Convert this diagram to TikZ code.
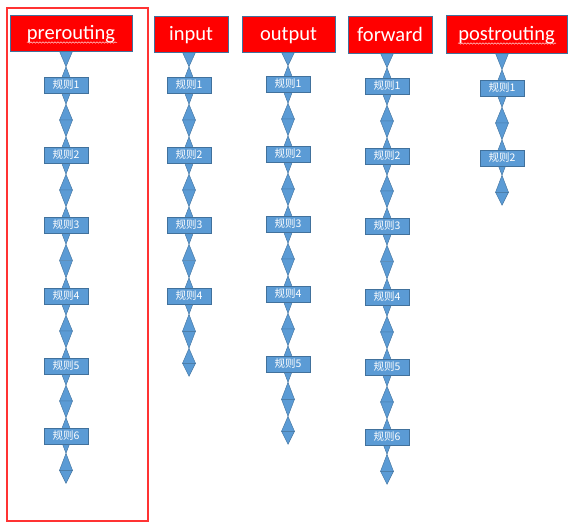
\documentclass[tikz,border=0pt]{standalone}
\usepackage{fontspec}
\setmainfont{Carlito}
\newfontfamily\cjk{Noto Sans CJK SC}
\usetikzlibrary{calc,backgrounds,decorations.pathmorphing}
\definecolor{hfill}{RGB}{255,0,0}
\definecolor{bfill}{RGB}{91,155,213}
\definecolor{bline}{RGB}{65,113,156}
\definecolor{framered}{RGB}{255,51,51}
\tikzset{
 chainbox/.style={fill=hfill,draw=bline,line width=0.8pt,text=white,font=\fontsize{20.5}{24}\selectfont,inner sep=0pt,text height=15.5pt,text depth=2.5pt},
 rulebox/.style={fill=bfill,draw=bline,line width=0.6pt,text=white,font=\cjk\fontsize{10.5}{12}\selectfont,minimum width=44pt,minimum height=16pt,inner sep=0pt},
 tri/.style={fill=bfill,draw=bline,line width=0.4pt,line join=miter},
 squig/.style={draw=red!20!white,line width=0.5pt,decorate,decoration={snake,amplitude=0.7pt,segment length=3pt}}
}
\newcommand\tri[2]{\filldraw[tri] ([xshift=-6.5pt]#1) -- ([xshift=6.5pt]#1) -- (#2) -- cycle;}
\newcommand\hlink[2]{%
 \coordinate (u0) at (#2.north |- #1.south);
 \coordinate (u1) at ($(#2.north)+(0,-10)$);
 \coordinate (u2) at ($(u1)+(0,17)$);
 \tri{u0}{u1}\tri{u2}{u1}}
\newcommand\rlink[2]{%
 \coordinate (u1) at ($(#1.south)+(0,11)$);
 \coordinate (u0) at ($(u1)+(0,-17)$);
 \coordinate (um) at ($(#1.south)!0.5!(#2.north)$);
 \coordinate (u2) at ($(#2.north)+(0,-10)$);
 \coordinate (u3) at ($(u2)+(0,17)$);
 \tri{u0}{u1}\tri{um}{u1}\tri{um}{u2}\tri{u3}{u2}}
\newcommand\tailthree[1]{%
 \coordinate (u1) at ($(#1.south)+(0,9)$);
 \coordinate (u0) at ($(u1)+(0,-17)$);
 \coordinate (u2) at ($(u1)+(0,17)$);
 \coordinate (u3) at ($(u2)+(0,13)$);
 \tri{u0}{u1}\tri{u2}{u1}\tri{u2}{u3}}
\newcommand\tailfive[1]{%
 \coordinate (u1) at ($(#1.south)+(0,10)$);
 \coordinate (u0) at ($(u1)+(0,-17)$);
 \coordinate (u2) at ($(u1)+(0,17)$);
 \coordinate (u3) at ($(u2)+(0,17)$);
 \coordinate (u4) at ($(u3)+(0,15)$);
 \coordinate (u5) at ($(u4)+(0,13)$);
 \tri{u0}{u1}\tri{u2}{u1}\tri{u2}{u3}\tri{u4}{u3}\tri{u4}{u5}}
\begin{document}
\begin{tikzpicture}[x=1pt,y=-1pt]
\useasboundingbox (0,0) rectangle (576,530);
% frame
\draw[framered,line width=2pt] (6.5,7.5) rectangle (147.5,521);
% headers
\node[chainbox,minimum width=122pt,minimum height=36pt] (pre) at (71,33) {prerouting};
\node[chainbox,minimum width=74pt,minimum height=36pt] (inp) at (191,34) {input};
\node[chainbox,minimum width=93pt,minimum height=36pt] (out) at (288.5,34) {output};
\node[chainbox,minimum width=84pt,minimum height=37pt] (fwd) at (390,34.5) {forward};
\node[chainbox,minimum width=121pt,minimum height=38pt] (post) at (506.5,34) {postrouting};
\draw[squig] (27,42.5) -- (117,42.5);
\draw[squig] (458,43.5) -- (556,43.5);
% rules
\foreach \i/\y in {1/85,2/155,3/225,4/296,5/366,6/436}
  \node[rulebox] (pre\i) at (66,\y) {规则\i};
\foreach \i/\y in {1/85,2/155,3/225,4/296}
  \node[rulebox] (inp\i) at (189,\y) {规则\i};
\foreach \i/\y in {1/84,2/154,3/224,4/294,5/364}
  \node[rulebox] (out\i) at (288,\y) {规则\i};
\foreach \i/\y in {1/86,2/156,3/226,4/297,5/367,6/437}
  \node[rulebox] (fwd\i) at (387,\y) {规则\i};
\foreach \i/\y in {1/88,2/158}
  \node[rulebox] (post\i) at (502,\y) {规则\i};
% connectors
\begin{pgfonlayer}{background}
\hlink{pre}{pre1}
\hlink{inp}{inp1}
\hlink{out}{out1}
\hlink{fwd}{fwd1}
\hlink{post}{post1}
\foreach \i in {1,...,5}{\pgfmathtruncatemacro\j{\i+1}\rlink{pre\i}{pre\j}}
\foreach \i in {1,...,3}{\pgfmathtruncatemacro\j{\i+1}\rlink{inp\i}{inp\j}}
\foreach \i in {1,...,4}{\pgfmathtruncatemacro\j{\i+1}\rlink{out\i}{out\j}}
\foreach \i in {1,...,5}{\pgfmathtruncatemacro\j{\i+1}\rlink{fwd\i}{fwd\j}}
\rlink{post1}{post2}
\tailthree{pre6}
\tailfive{inp4}
\tailfive{out5}
\tailthree{fwd6}
\tailthree{post2}
\end{pgfonlayer}
\end{tikzpicture}
\end{document}
